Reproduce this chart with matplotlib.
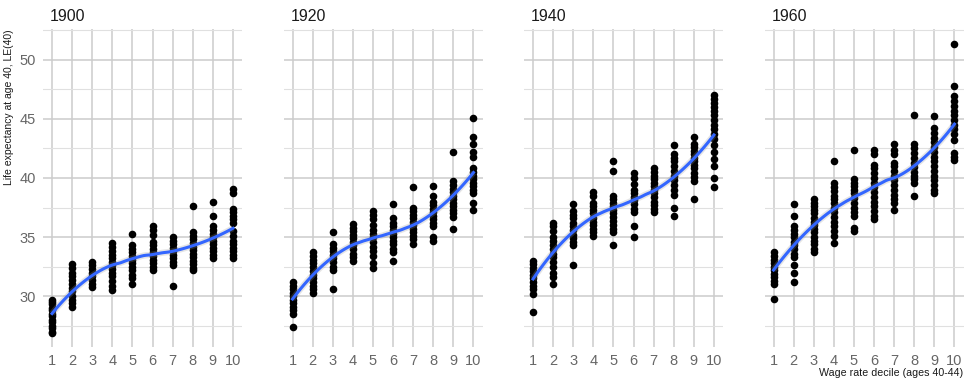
import numpy as np
import matplotlib
matplotlib.use("Agg")
import matplotlib.pyplot as plt

plt.rcParams['font.family'] = ['Liberation Sans', 'DejaVu Sans']

# ------------------------- data ----------------------------------------------
years = ['1900', '1920', '1940', '1960']
deciles = list(range(1, 11))

# life expectancy at 40, one list of points per wage decile
le_1900 = [
    [29.7, 29.5, 29.3, 29.0, 28.8, 28.5, 28.3, 28.0, 27.8, 27.5, 27.3, 27.0, 26.9],
    [32.7, 32.4, 32.0, 31.7, 31.4, 31.0, 30.7, 30.4, 30.0, 29.7, 29.4, 29.1],
    [32.9, 32.6, 32.3, 32.0, 31.7, 31.4, 31.0, 30.8],
    [34.5, 34.2, 33.8, 33.5, 33.2, 32.9, 32.6, 32.3, 32.0, 31.7, 31.3, 30.9, 30.5],
    [35.3, 34.3, 34.0, 33.7, 33.4, 33.1, 32.8, 32.5, 32.2, 31.8, 31.5, 31.0],
    [35.9, 35.6, 35.2, 34.6, 34.3, 34.0, 33.7, 33.4, 33.1, 32.8, 32.5, 32.2],
    [35.0, 34.7, 34.4, 34.1, 33.8, 33.5, 33.2, 32.9, 32.6, 30.9],
    [37.6, 35.4, 35.1, 34.8, 34.5, 34.2, 33.9, 33.6, 33.3, 33.0, 32.7, 32.4, 32.2],
    [38.0, 36.8, 35.9, 35.6, 35.3, 35.0, 34.7, 34.4, 34.1, 33.8, 33.5, 33.2],
    [39.1, 38.7, 37.4, 37.1, 36.8, 36.5, 36.2, 35.5, 35.1, 34.7, 34.4, 34.1, 33.8, 33.5, 33.2],
]
le_1920 = [
    [31.2, 30.9, 30.6, 30.3, 30.0, 29.7, 29.4, 29.1, 28.8, 28.5, 27.4],
    [33.7, 33.4, 33.1, 32.8, 32.5, 32.1, 31.8, 31.5, 31.2, 30.9, 30.6, 30.3],
    [35.4, 34.4, 34.1, 33.8, 33.5, 33.2, 32.9, 32.5, 32.2, 30.6],
    [36.1, 35.8, 35.5, 35.2, 34.9, 34.6, 34.3, 34.0, 33.6, 33.3, 33.0],
    [37.2, 36.9, 36.5, 36.0, 35.6, 35.3, 35.0, 34.6, 34.2, 33.8, 33.4, 32.8, 32.4],
    [37.8, 36.6, 36.2, 35.9, 35.6, 35.3, 35.0, 34.7, 34.4, 34.0, 33.7, 33.0],
    [39.2, 37.5, 37.2, 36.9, 36.6, 36.3, 36.0, 35.7, 35.4, 35.1, 34.8, 34.4],
    [39.3, 38.5, 38.0, 37.7, 37.4, 37.1, 36.8, 36.5, 36.2, 35.9, 35.0, 34.7],
    [42.2, 39.7, 39.4, 39.1, 38.8, 38.5, 38.2, 37.9, 37.6, 37.3, 37.0, 36.7, 35.7],
    [45.1, 43.5, 42.9, 42.2, 41.8, 40.8, 40.5, 40.2, 39.9, 39.6, 39.3, 39.0, 38.7, 37.9, 37.3],
]
le_1940 = [
    [33.0, 32.7, 32.4, 32.1, 31.8, 31.5, 31.2, 30.9, 30.6, 30.2, 28.7],
    [36.2, 35.9, 35.5, 35.0, 34.7, 34.3, 34.0, 33.6, 33.3, 32.9, 32.5, 32.0, 31.6, 31.0],
    [37.8, 37.2, 36.9, 36.6, 36.2, 35.9, 35.6, 35.2, 34.9, 34.6, 34.3, 32.6],
    [38.8, 38.5, 37.9, 37.6, 37.3, 37.0, 36.6, 36.3, 36.0, 35.7, 35.4, 35.1],
    [41.4, 40.6, 38.5, 38.2, 37.9, 37.6, 37.3, 37.0, 36.7, 36.4, 36.0, 35.7, 35.4, 34.3],
    [40.4, 40.0, 39.5, 39.0, 38.7, 38.4, 38.1, 37.8, 37.4, 37.1, 35.9, 35.0],
    [40.8, 40.5, 40.2, 39.9, 39.6, 39.3, 39.0, 38.7, 38.4, 38.0, 37.7, 37.4, 37.1],
    [42.8, 42.0, 41.7, 41.4, 41.0, 40.6, 40.2, 39.8, 39.4, 39.0, 38.6, 37.5, 36.8],
    [43.5, 42.9, 42.6, 42.3, 42.0, 41.7, 41.4, 41.1, 40.8, 40.4, 40.1, 39.7, 38.2],
    [47.0, 46.7, 46.3, 46.0, 45.7, 45.3, 44.9, 44.5, 44.1, 43.7, 43.3, 42.8, 42.2, 41.6, 41.0, 40.0, 39.2],
]
le_1960 = [
    [33.7, 33.4, 33.1, 32.8, 32.5, 32.2, 31.9, 31.6, 31.3, 31.0, 29.8],
    [37.8, 36.8, 35.9, 35.6, 35.3, 35.0, 34.6, 34.3, 34.0, 33.6, 33.3, 32.6, 32.0, 31.2],
    [38.2, 37.9, 37.6, 37.3, 37.0, 36.6, 36.3, 36.0, 35.7, 35.4, 35.0, 34.7, 34.4, 34.0, 33.7],
    [41.4, 39.6, 39.2, 38.9, 38.5, 38.2, 37.9, 37.5, 37.1, 36.7, 36.3, 35.9, 35.5, 35.1, 34.5],
    [42.4, 39.9, 39.6, 39.3, 39.0, 38.7, 38.3, 37.9, 37.5, 37.1, 36.8, 35.8, 35.5],
    [42.4, 42.0, 41.1, 40.8, 40.4, 40.0, 39.6, 39.2, 38.8, 38.4, 38.0, 37.6, 37.2, 36.8, 36.5],
    [42.9, 42.4, 42.0, 41.3, 41.0, 40.6, 40.2, 39.8, 39.4, 39.0, 38.6, 38.2, 37.9, 37.3],
    [45.3, 42.9, 42.5, 42.1, 41.7, 41.3, 40.9, 40.5, 40.2, 39.9, 39.6, 38.5],
    [45.2, 44.2, 43.8, 43.4, 43.0, 42.6, 42.2, 41.8, 41.4, 41.0, 40.6, 40.2, 39.8, 39.4, 39.0, 38.7],
    [51.3, 47.8, 46.9, 46.5, 46.1, 45.7, 45.3, 44.9, 44.5, 44.1, 43.7, 43.2, 42.1, 41.8, 41.5],
]
panels = [le_1900, le_1920, le_1940, le_1960]


def loess(x, y, xs, span=0.75):
    # local quadratic fit with tricube weights (like geom_smooth default)
    n = len(x)
    q = int(np.floor(n * span))
    fit = []
    for x0 in xs:
        d = np.abs(x - x0)
        h = np.sort(d)[q - 1] * 1.0001
        w = np.clip(1 - (d / h) ** 3, 0, None) ** 3
        X = np.column_stack([np.ones(n), x - x0, (x - x0) ** 2])
        sw = np.sqrt(w)
        beta = np.linalg.lstsq(X * sw[:, None], y * sw, rcond=None)[0]
        fit.append(beta[0])
    return np.array(fit)


fig = plt.figure(figsize=(9.65, 3.83), dpi=100)
W, H = 965.0, 383.0
lefts = [43, 283.5, 524, 764.5]
pw, top, bottom = 199, 29, 347

for i, (year, data) in enumerate(zip(years, panels)):
    ax = fig.add_axes([lefts[i] / W, (H - bottom) / H, pw / W, (bottom - top) / H])
    xs = np.concatenate([[d] * len(v) for d, v in zip(deciles, data)]).astype(float)
    ys = np.concatenate(data)

    ax.scatter(xs, ys, s=30, color='black', linewidths=0, zorder=3)
    grid_x = np.linspace(1, 10, 80)
    sm = loess(xs, ys, grid_x)
    ax.plot(grid_x, sm, color='#999999', lw=4.5, alpha=0.25, zorder=3.5, solid_capstyle='butt')
    ax.plot(grid_x, sm, color='#3366FF', lw=2.2, zorder=4)

    ax.set_xlim(0.55, 10.45)
    ax.set_ylim(25.7, 52.6)
    ax.set_xticks(deciles)
    ax.set_yticks([30, 35, 40, 45, 50])
    ax.set_yticks([27.5, 32.5, 37.5, 42.5, 47.5, 52.5], minor=True)
    ax.grid(which='major', color='#cccccc', lw=1.1)
    ax.grid(which='minor', axis='y', color='#e0e0e0', lw=0.8)
    ax.set_axisbelow(True)
    for s in ax.spines.values():
        s.set_visible(False)
    ax.tick_params(which='both', length=0, labelsize=10.5, colors='#666666', pad=5)
    if i > 0:
        ax.tick_params(axis='y', labelleft=False)
    else:
        ax.set_ylabel('Life expectancy at age 40, LE(40)', loc='top', fontsize=7.5,
                      color='#1a1a1a', labelpad=4)
    if i == 3:
        ax.set_xlabel('Wage rate decile (ages 40-44)', loc='right', fontsize=7.7,
                      color='#1a1a1a', labelpad=0)
    ax.text(0.035, 1.025, year, transform=ax.transAxes, fontsize=11.5,
            color='#1a1a1a', va='baseline', ha='left')

fig.savefig('out.png', dpi=100)
